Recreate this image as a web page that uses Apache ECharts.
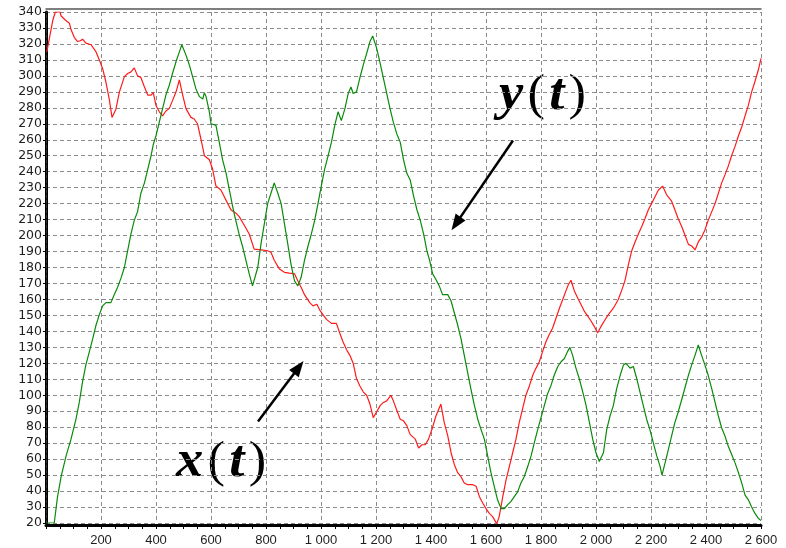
<!DOCTYPE html>
<html>
<head>
<meta charset="utf-8">
<script src="https://cdn.jsdelivr.net/npm/echarts@6/dist/echarts.min.js"></script>
<style>
  html, body { margin: 0; padding: 0; background: #fff; }
  #chart { width: 786px; height: 548px; }
</style>
</head>
<body>
<div id="chart"></div>
<script>
// x(t) trajectory (red)
const redT = [3,15,25,34,51,55,70,85,91,103,115,125,133,145,164,182,194,206,218,230,240,254,267,285,297,309,321,333,345,358,370,382,390,400,412,424,436,448,460,473,485,497,509,527,539,551,564,576,594,606,618,636,648,661,673,691,702,721,739,757,782,806,818,830,849,867,885,904,916,928,940,959,971,985,995,1007,1020,1038,1056,1068,1080,1093,1105,1117,1129,1141,1154,1166,1178,1190,1202,1215,1227,1239,1254,1263,1276,1288,1300,1312,1324,1343,1355,1367,1379,1391,1406,1418,1436,1448,1461,1473,1485,1497,1509,1521,1533,1552,1564,1576,1588,1600,1612,1624,1639,1648,1661,1673,1685,1697,1709,1721,1733,1745,1758,1770,1782,1794,1806,1818,1830,1842,1855,1867,1879,1891,1900,1909,1921,1933,1945,1958,1970,1982,1994,2006,2018,2030,2045,2063,2081,2093,2105,2118,2130,2142,2154,2166,2178,2190,2202,2215,2227,2242,2257,2275,2287,2299,2312,2324,2336,2348,2360,2372,2384,2396,2408,2421,2433,2445,2457,2469,2481,2493,2506,2518,2530,2542,2554,2566,2578,2590,2600];
const redX = [315,326,335,340,340,337.5,335,333,329,324,321.5,322,323,320.5,319.5,315,310,304.5,296,285.5,274,279,290,299.5,301.5,302.5,305,300,299,293,288,288,289.5,281.5,277.5,275,278,279.5,284.5,290,297.5,288,279.5,274,273,270,260,250,247.5,241.5,231,228.5,224.5,220,216,214,212,206.5,201,191.5,191,190.5,189.5,184.5,179,177,176.5,176,171.5,167.5,163,158,156,157,153.5,150.5,147.5,145,145,139,133.5,128.5,125,120,110.5,106,102,100,94.5,86,89.5,93.5,95.5,96.5,100,96.5,90.5,85,84,81,75.5,72.5,67,69,69,72.5,80,87,94.5,83,74.5,64,56.5,51.5,49,45,44,44,43,36.5,32.5,29,26,24,19.5,24,36.5,47,55.5,64,72.5,83,91.5,100,106,112.5,117,121,127.5,133.5,138,142,148.5,154.5,160,165.5,169.5,172,165.5,161,157,152.5,149.5,146.5,143,139,143,146.5,150.5,154.5,160,165.5,171.5,182,190.5,196,201,205.5,210.5,216,220,224.5,228.5,231,225.5,221.5,216,210.5,205.5,200,194.5,193.5,191,196,199,203.5,209.5,215,220,226.5,233,238,243.5,250,256,262.5,268,275,281.5,290,296.5,303.5,311];

// y(t) trajectory (green)
const greenT = [0,30,42,55,73,91,109,121,133,145,158,170,182,194,206,218,236,248,260,273,285,297,309,321,333,345,358,370,382,390,400,412,424,436,448,460,473,485,494,509,521,533,545,558,570,576,582,594,600,618,630,642,655,667,679,690,702,715,727,739,751,757,770,782,794,806,818,830,843,855,867,879,891,904,916,928,940,952,965,977,989,1001,1013,1026,1038,1050,1062,1074,1087,1099,1109,1117,1129,1141,1154,1166,1178,1188,1202,1215,1227,1239,1251,1263,1276,1288,1300,1312,1324,1337,1349,1361,1373,1385,1395,1406,1418,1430,1442,1461,1473,1485,1497,1509,1521,1533,1545,1558,1570,1582,1594,1606,1618,1630,1642,1655,1667,1679,1691,1703,1715,1727,1739,1752,1764,1776,1788,1800,1812,1824,1836,1848,1861,1873,1885,1897,1905,1915,1927,1939,1952,1964,1976,1988,2000,2012,2027,2039,2051,2063,2075,2088,2100,2109,2124,2136,2148,2160,2172,2184,2196,2208,2221,2233,2240,2251,2263,2275,2287,2299,2312,2324,2336,2348,2360,2372,2384,2396,2408,2421,2433,2445,2457,2469,2481,2493,2506,2518,2530,2542,2554,2566,2578,2590,2600];
const greenY = [20,20,36.5,49,62,72.5,85,95.5,108.5,119,127.5,135.5,144,150.5,156,158,158,163,167.5,173.5,180,190.5,201,209.5,215,226.5,233,241.5,250,257,262.5,271,279.5,288,294,301.5,309,315,319.5,313,307,299.5,292,287,285.5,289.5,287,277.5,270,269,258.5,247.5,239,228.5,218,209.5,201,193,184.5,176,168.5,167.5,180,195,207.5,220,226.5,233,226.5,220,207.5,195,182,171.5,168.5,174,184.5,193,201,209.5,220,231,241.5,250,258.5,269,277.5,272,279.5,289,293,289,290,298.5,307,314,321.5,325,317.5,308,298.5,289,279.5,271,263.5,258.5,247.5,239,235,224.5,216,209.5,201,190.5,184.5,176,172.5,168.5,163,163,159,151.5,144,135.5,125,114.5,104,93.5,85,78.5,72.5,62,51.5,43,34.5,29,29,31.5,33.5,36.5,39.5,45,49,55.5,62,70.5,78.5,86,93.5,101,106,112.5,118,121,123,127.5,130,125,117,110.5,102,93.5,83,72.5,64,58.5,64,78.5,87,93.5,104,112.5,119,120,117,118,110.5,102,93.5,85,78.5,70.5,62,55.5,50,57.5,66,74.5,83,89.5,97.5,105,112.5,119,125,131.5,125,119,112.5,104,95.5,87,79.5,74.5,68,63,57.5,51.5,45,37.5,34.5,30,26,23,21.5];

// axis ranges and tick steps
const tRange = [0, 2600];
const tStep = 200;
const vRange = [20, 340];
const vStep = 10;

// annotation arrows: [tail, head] in (t, value) units
const arrowY = [[1698, 259.5], [1491, 207.5]];
const arrowX = [[771, 83.5], [919, 117.5]];

const pairs = (ts, vs) => ts.map((t, i) => [t, vs[i]]);
const thousands = v => (v === 0 ? '' : String(v).replace(/\B(?=(\d{3})+(?!\d))/g, ' '));
const gridDash = { type: [4, 3], color: '#8c8c8c', width: 1 };

const chart = echarts.init(document.getElementById('chart'), null, { renderer: 'canvas' });

// math-style labels: italic letters, upright parentheses, loosely spaced
const mathRich = {
  v: { font: 'italic 600 52px "Liberation Serif"', fill: '#000', padding: [0, 2, 0, 2] },
  p: { font: 'normal 400 50px "Liberation Serif"', fill: '#000', padding: [0, 2, 0, 2] }
};

chart.setOption({
  animation: false,
  backgroundColor: '#fff',
  grid: { left: 46, right: 25, top: 12, bottom: 25, containLabel: false },
  xAxis: [
    {
      type: 'value', min: tRange[0], max: tRange[1], interval: tStep, offset: 2,
      axisLine: { lineStyle: { color: '#000', width: 3 } },
      axisTick: { show: true, length: 4, lineStyle: { color: '#000', width: 1 } },
      minorTick: { show: true, splitNumber: 4, length: 4, lineStyle: { color: '#000', width: 1 } },
      axisLabel: { margin: 9, color: '#1e1e1e', fontFamily: 'Liberation Sans', fontSize: 13, formatter: thousands },
      splitLine: { show: true, lineStyle: gridDash }
    },
    {
      type: 'value', position: 'top', min: tRange[0], max: tRange[1], interval: tStep, offset: 3,
      axisLine: { show: true, lineStyle: { color: '#555', width: 1.5 } },
      axisTick: { show: false }, axisLabel: { show: false }, splitLine: { show: false }
    }
  ],
  yAxis: [
    {
      type: 'value', min: vRange[0], max: vRange[1], interval: vStep,
      axisLine: { show: true, lineStyle: { color: '#000', width: 3 } },
      axisTick: { show: true, length: 3, lineStyle: { color: '#000', width: 1 } },
      axisLabel: { margin: 4, color: '#1e1e1e', fontFamily: 'DejaVu Sans', fontSize: 12.5 },
      splitLine: { show: true, lineStyle: gridDash }
    },
    {
      type: 'value', position: 'right', min: vRange[0], max: vRange[1], interval: vStep,
      axisLine: { show: true, lineStyle: { color: '#333', width: 1, type: [3, 2] } },
      axisTick: { show: false }, axisLabel: { show: false }, splitLine: { show: false }
    }
  ],
  series: [
    {
      name: 'x(t)', type: 'line', data: pairs(redT, redX), showSymbol: false, silent: true,
      lineStyle: { color: '#ff1a1a', width: 1.2 }, z: 3
    },
    {
      name: 'y(t)', type: 'line', data: pairs(greenT, greenY), showSymbol: false, silent: true,
      lineStyle: { color: '#0a8a0a', width: 1.2 }, z: 4,
      markLine: {
        silent: true,
        symbol: ['none', 'triangle'],
        symbolSize: [12, 16],
        label: { show: false },
        lineStyle: { color: '#000', width: 2.5, type: 'solid' },
        data: [
          [{ coord: arrowY[0] }, { coord: arrowY[1] }],
          [{ coord: arrowX[0] }, { coord: arrowX[1] }]
        ]
      }
    }
  ],
  graphic: [
    {
      type: 'text', x: 497, y: 96, scaleX: 1.05,
      style: { text: '{v|y}{p|(}{v|t}{p|)}', rich: mathRich, verticalAlign: 'middle', align: 'left' }
    },
    {
      type: 'text', x: 174, y: 463, scaleX: 1.05,
      style: { text: '{v|x}{p|(}{v|t}{p|)}', rich: mathRich, verticalAlign: 'middle', align: 'left' }
    }
  ]
});
</script>
</body>
</html>
